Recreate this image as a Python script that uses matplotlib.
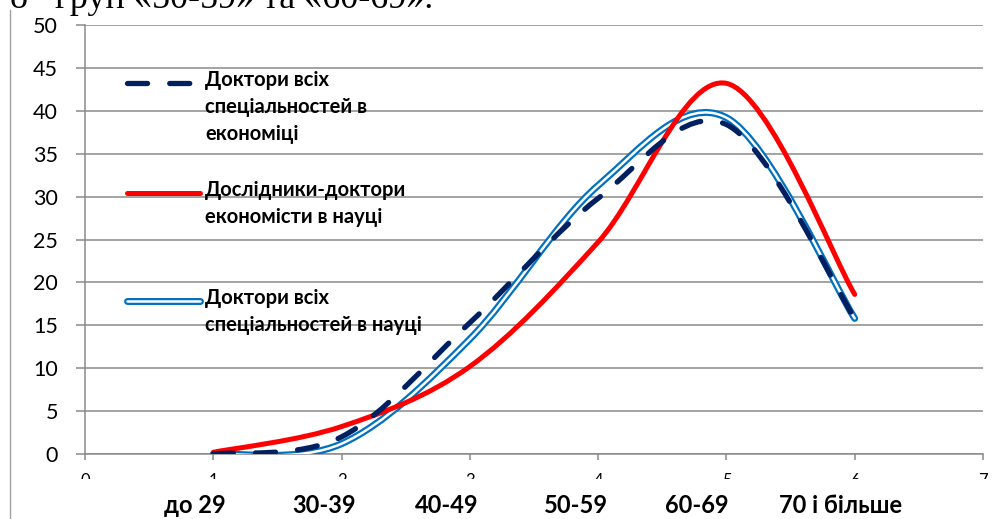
import numpy as np
import matplotlib.pyplot as plt
from matplotlib.path import Path
from matplotlib.patches import PathPatch
from matplotlib.lines import Line2D

# age groups on the x axis (positions 1..6)
x = [1, 2, 3, 4, 5, 6]
age_groups = ['до 29', '30-39', '40-49', '50-59', '60-69', '70 і більше']

# shares, %
econ_all = [0.0, 2.0, 15.3, 29.8, 38.4, 15.8]   # dashed navy
econ_res = [0.2, 3.2, 10.2, 24.7, 43.2, 18.6]   # red
sci_all = [0.0, 1.2, 13.4, 31.3, 39.2, 15.8]    # double blue

series_names = ['Доктори всіх\nспеціальностей в\nекономіці',
                'Дослідники-доктори\nекономісти в науці',
                'Доктори всіх\nспеціальностей в науці']

# where the group names sit under the axis (x units)
group_pos = [0.86, 1.86, 2.82, 3.83, 4.77, 5.89]

NAVY = '#002060'
RED = '#FF0000'
BLUE = '#0070C0'
GRID = '#8a8a8a'
SANS = ['Lato', 'DejaVu Sans']


def smooth_path(xs, ys):
    # Excel style smoothed line: cubic Bezier segments through the points
    pts = np.column_stack([xs, ys]).astype(float)
    n = len(pts)
    verts = [pts[0]]
    codes = [Path.MOVETO]
    for i in range(n - 1):
        p0 = pts[max(i - 1, 0)]
        p1 = pts[i]
        p2 = pts[i + 1]
        p3 = pts[min(i + 2, n - 1)]
        verts += [p1 + (p2 - p0) / 6, p2 - (p3 - p1) / 6, p2]
        codes += [Path.CURVE4] * 3
    return Path(verts, codes)


fig = plt.figure(figsize=(9.98, 5.19), dpi=100)
ax = fig.add_axes([85 / 998, 65 / 519, 898 / 998, 429 / 519])

# double blue line: thick blue with a thin white core
ax.add_patch(PathPatch(smooth_path(x, sci_all), fill=False, ec=BLUE, lw=5.0,
                       capstyle='round', joinstyle='round', zorder=3))
ax.add_patch(PathPatch(smooth_path(x, sci_all), fill=False, ec='white', lw=1.8,
                       capstyle='round', joinstyle='round', zorder=3.1))
ax.add_patch(PathPatch(smooth_path(x, econ_res), fill=False, ec=RED, lw=3.6,
                       capstyle='round', joinstyle='round', zorder=4))
ax.add_patch(PathPatch(smooth_path(x, econ_all), fill=False, ec=NAVY, lw=3.8,
                       ls=(0, (3.8, 4.2)), capstyle='round', joinstyle='round',
                       zorder=5))

ax.set_xlim(0, 7)
ax.set_ylim(0, 50)
ax.set_yticks(np.arange(0, 51, 5))
ax.set_xticks(range(0, 8))
ax.grid(axis='y', color=GRID, lw=1.1)
ax.set_axisbelow(True)
for s in ['top', 'right']:
    ax.spines[s].set_visible(False)
for s in ['left', 'bottom']:
    ax.spines[s].set_color(GRID)
    ax.spines[s].set_linewidth(1.1)
ax.tick_params(axis='y', direction='out', length=6.5, width=1.1, color=GRID,
               pad=13, labelsize=15.5)
ax.tick_params(axis='x', direction='out', length=4.5, width=1.1, color=GRID,
               pad=9, labelsize=12)
for lbl in ax.get_yticklabels() + ax.get_xticklabels():
    lbl.set_family(SANS)

# the small 0..7 labels are cut in the source picture
clip = fig.add_axes([0, (519 - 479) / 519, 1, 479 / 519], frameon=False)
clip.set_axis_off()
for lbl in ax.get_xticklabels():
    lbl.set_clip_on(True)
    lbl.set_clip_box(clip.bbox)

# category labels under the axis
for pos, name in zip(group_pos, age_groups):
    ax.text(pos, -0.119, name, transform=ax.get_xaxis_transform(),
            ha='center', va='center', fontsize=17, fontweight='bold',
            family=SANS, clip_on=False)

# legend inside the plot
leg_y = [0.865, 0.608, 0.357]
ax.add_line(Line2D([0.047, 0.128], [leg_y[0]] * 2, transform=ax.transAxes,
                   color=NAVY, lw=3.8, ls=(0, (3.8, 4.2)),
                   solid_capstyle='round', dash_capstyle='round', zorder=6))
ax.add_line(Line2D([0.047, 0.128], [leg_y[1]] * 2, transform=ax.transAxes,
                   color=RED, lw=3.6, solid_capstyle='round', zorder=6))
ax.add_line(Line2D([0.047, 0.128], [leg_y[2]] * 2, transform=ax.transAxes,
                   color=BLUE, lw=5.0, solid_capstyle='round', zorder=6))
ax.add_line(Line2D([0.047, 0.128], [leg_y[2]] * 2, transform=ax.transAxes,
                   color='white', lw=1.8, solid_capstyle='round', zorder=6.1))
for yy, name in zip(leg_y, series_names):
    ax.text(0.134, yy + 0.030, name, transform=ax.transAxes, ha='left',
            va='top', fontsize=14.5, fontweight='bold', family=SANS,
            linespacing=1.45, zorder=7)

# page fragments around the chart
fig.add_artist(Line2D([9.5 / 998] * 2, [0, 1 - 10 / 519], color='#a0a0a0',
                      lw=1.0))
fig.text(10 / 998, 1 - 8 / 519, 'о   груп «50-59» та «60-69».',
         family='Liberation Serif', fontsize=26, ha='left', va='baseline')

fig.savefig('out.png', dpi=100)
